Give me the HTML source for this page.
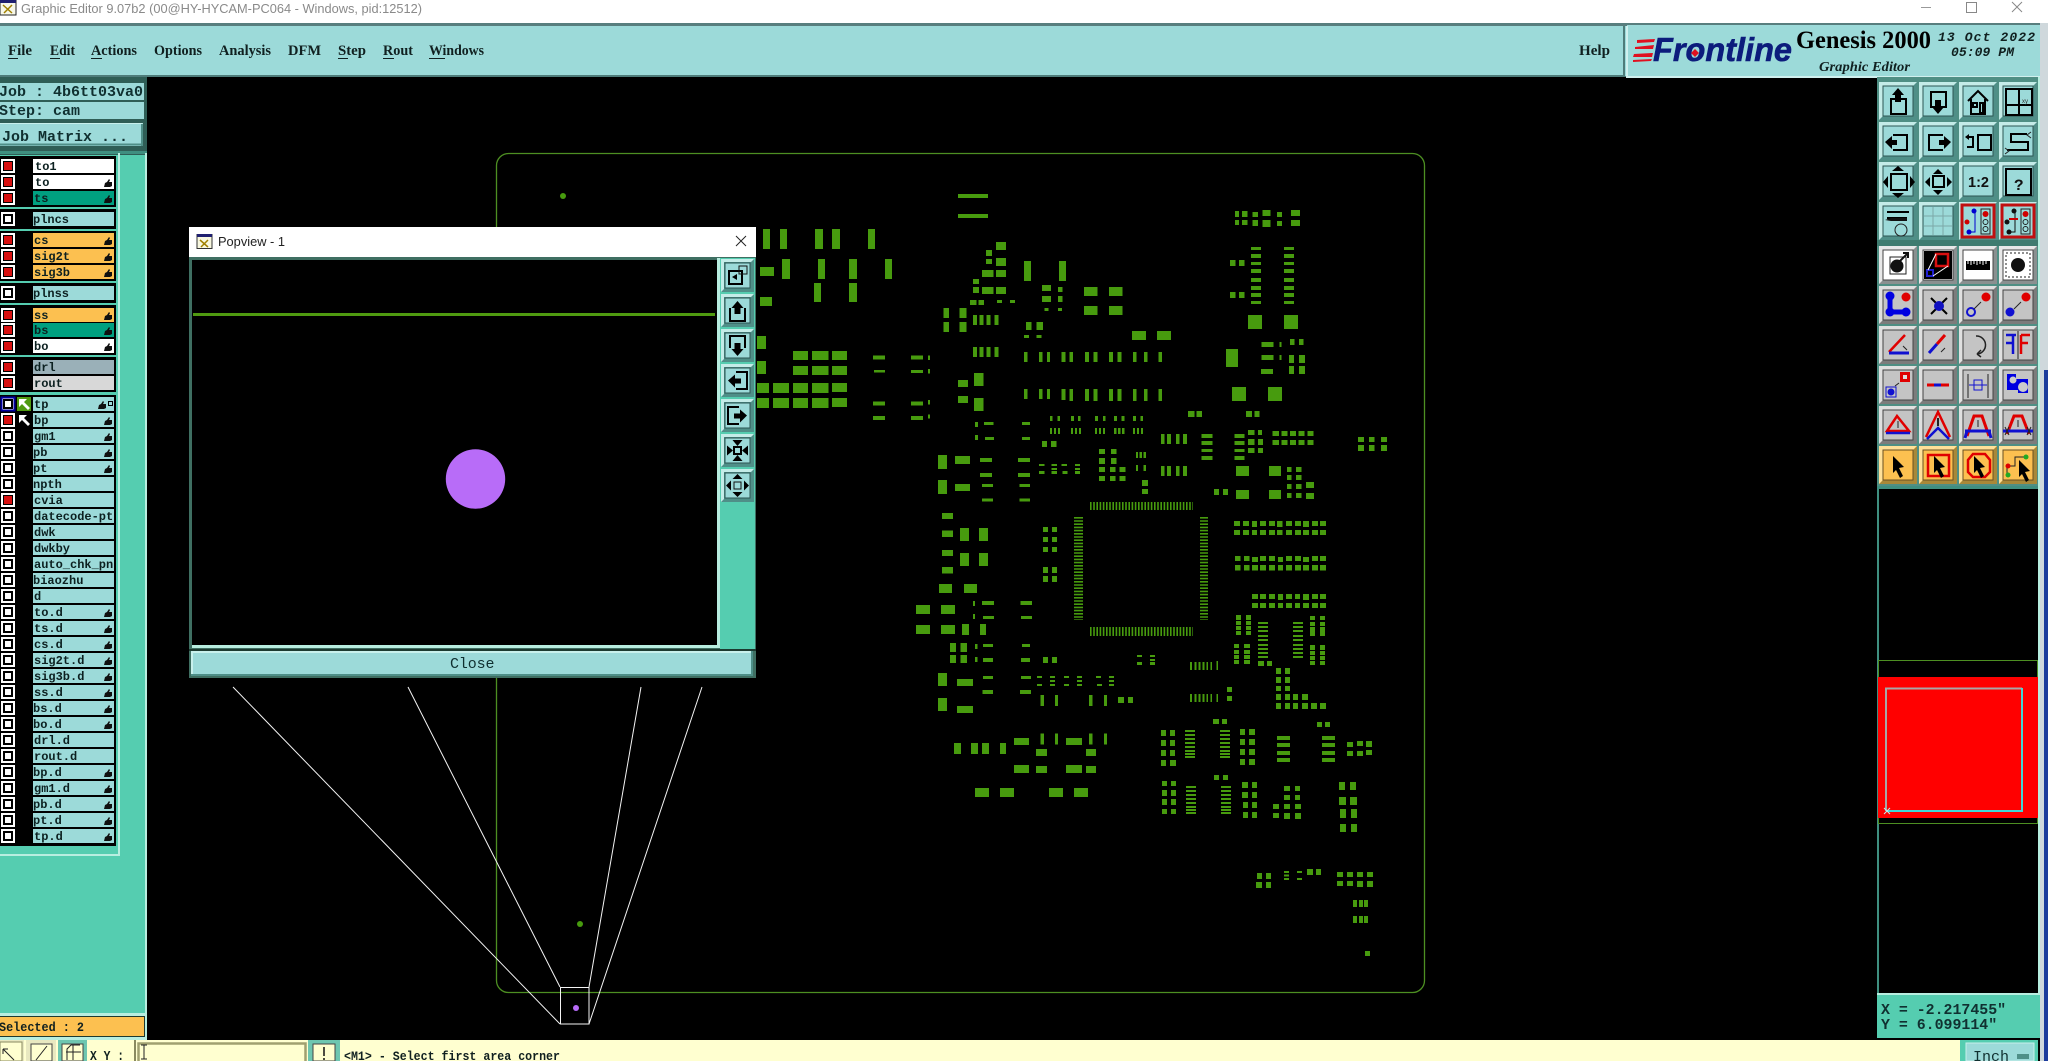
<!DOCTYPE html>
<html><head><meta charset="utf-8"><title>Graphic Editor</title>
<style>
html,body{margin:0;padding:0;background:#000;width:2048px;height:1061px;overflow:hidden}
svg{display:block}
.m{font-family:"Liberation Mono",monospace;font-weight:700}
.l{font-family:"Liberation Mono",monospace;font-weight:700;font-size:12px;fill:#0c2020}
.s{font-family:"Liberation Serif",serif;font-weight:700}
.a{font-family:"Liberation Sans",sans-serif}
.n{fill:none;stroke:#000;stroke-width:2}
</style></head><body>
<svg xmlns="http://www.w3.org/2000/svg" width="2048" height="1061" viewBox="0 0 2048 1061">
<defs>
<g id="hand"><path d="M0 8l1-4 2-1 2-3 1 1-1 2h3v4l-2 1H1z" fill="#101010"/></g>
<g id="bT"><rect width="38" height="38" fill="#4f8f88"/><path d="M0 0h38l-4 4H4v30l-4 4z" fill="#c4ece8"/><rect x="4" y="4" width="30" height="30" fill="#9cdad9" stroke="#2c5654"/></g>
<g id="bW"><rect width="38" height="38" fill="#8a9090"/><path d="M0 0h38l-4 4H4v30l-4 4z" fill="#e8e8e8"/><rect x="4" y="4" width="30" height="30" fill="#fff" stroke="#444"/></g>
<g id="bG"><rect width="38" height="38" fill="#7c7c7c"/><path d="M0 0h38l-4 4H4v30l-4 4z" fill="#e0e0e0"/><rect x="4" y="4" width="30" height="30" fill="#c4c4c4" stroke="#444"/></g>
<g id="bO"><rect width="38" height="38" fill="#a88838"/><path d="M0 0h38l-4 4H4v30l-4 4z" fill="#ffe098"/><rect x="4" y="4" width="30" height="30" fill="#fcc050" stroke="#6a5020"/></g>
<g id="bP"><rect width="33" height="33" fill="#4f8f88"/><path d="M0 0h33l-3 3H3v27l-3 3z" fill="#c4ece8"/><rect x="4" y="4" width="25" height="25" fill="#9cdad9" stroke="#2c5654"/></g>
<path id="ptr" d="M0 0l11 11-5 1 4 8-3 2-4-8-3 3z" fill="#000"/>
</defs>

<rect width="2048" height="1061" fill="#000"/>

<!-- right edge desktop strip -->
<rect x="2040" y="0" width="8" height="1061" fill="#cfd8dc"/>
<rect x="2044" y="370" width="4" height="691" fill="#1c3c9c"/>

<!-- title bar -->
<rect width="2040" height="23" fill="#fff"/>
<rect x="2040" width="8" height="23" fill="#fff"/>
<rect x="0" y="0" width="16" height="15" fill="#f8f8e8" stroke="#222"/><rect x="0" y="0" width="16" height="3" fill="#202070"/>
<path d="M3 5l9 8M12 5l-8 8" stroke="#a08000" stroke-width="1.5"/>
<text class="a" x="21" y="13" font-size="13" fill="#8a8a8a" textLength="401" lengthAdjust="spacingAndGlyphs">Graphic Editor 9.07b2 (00@HY-HYCAM-PC064 - Windows, pid:12512)</text>
<path d="M1921 7.5h10" stroke="#999" stroke-width="1"/>
<rect x="1966.5" y="2.5" width="10" height="10" fill="none" stroke="#888"/>
<path d="M2012 2l10 10M2022 2l-10 10" stroke="#888" stroke-width="1"/>

<!-- menu bar -->
<rect x="0" y="23" width="2040" height="3" fill="#587e7e"/>
<rect x="0" y="26" width="2040" height="49" fill="#9cdad9"/>
<rect x="0" y="75" width="2040" height="2" fill="#4e7c7a"/>
<g class="s" font-size="14.5" fill="#102020">
<text x="8" y="55" textLength="24" lengthAdjust="spacingAndGlyphs">File</text>
<text x="50" y="55" textLength="25" lengthAdjust="spacingAndGlyphs">Edit</text>
<text x="91" y="55" textLength="46" lengthAdjust="spacingAndGlyphs">Actions</text>
<text x="154" y="55" textLength="48" lengthAdjust="spacingAndGlyphs">Options</text>
<text x="219" y="55" textLength="52" lengthAdjust="spacingAndGlyphs">Analysis</text>
<text x="288" y="55" textLength="33" lengthAdjust="spacingAndGlyphs">DFM</text>
<text x="338" y="55" textLength="28" lengthAdjust="spacingAndGlyphs">Step</text>
<text x="383" y="55" textLength="30" lengthAdjust="spacingAndGlyphs">Rout</text>
<text x="429" y="55" textLength="55" lengthAdjust="spacingAndGlyphs">Windows</text>
<text x="1579" y="55" textLength="31" lengthAdjust="spacingAndGlyphs">Help</text>
</g>
<path d="M8 58.5h10M50 58.5h10M91 58.5h11M338 58.5h10M383 58.5h11M429 58.5h16" stroke="#102020" stroke-width="1"/>

<!-- logo panel -->
<rect x="1623" y="26" width="2" height="50" fill="#4e7c7a"/>
<rect x="1625" y="26" width="2" height="50" fill="#9cdad9"/>
<rect x="1627" y="25" width="413" height="52" fill="#9cdad9"/>
<path d="M1627 26v51h413" fill="none" stroke="#d0f0ee" stroke-width="2"/>
<path d="M1637 40l18-1-1 3-17 1zM1635 47l19-2-1 4-18 0zM1634 54l19-1-1 4-19 0zM1633 60l19-1-1 2-18 1z" fill="#e01020"/>
<text x="1653" y="61" font-family="Liberation Sans,sans-serif" font-style="italic" font-weight="700" font-size="33" fill="#0c1c7c" stroke="#0c1c7c" stroke-width=".6" textLength="139" lengthAdjust="spacingAndGlyphs">Frontline</text>
<path d="M1695 49l4 4-4 4-4-4z" fill="#e01020"/>
<text class="s" x="1796" y="48" font-size="25" fill="#000" textLength="135" lengthAdjust="spacingAndGlyphs">Genesis 2000</text>
<text class="s" x="1819" y="71" font-size="14" font-style="italic" fill="#102020" textLength="91" lengthAdjust="spacingAndGlyphs">Graphic Editor</text>
<g font-family="Liberation Mono,monospace" font-style="italic" font-weight="700" font-size="13" fill="#102020">
<text x="1938" y="41" textLength="97">13 Oct 2022</text>
<text x="1951" y="56" textLength="63">05:09 PM</text>
</g>

<!-- PCB outline -->
<rect x="496.5" y="153.5" width="928" height="839" rx="12" fill="none" stroke="#4d8f22" stroke-width="1.3"/>
<ellipse cx="563" cy="196" rx="3" ry="3" fill="#479b0e"/>
<ellipse cx="580" cy="924" rx="3" ry="3" fill="#479b0e"/>

<g fill="#479b0e" shape-rendering="crispEdges">
<path transform="translate(740 150) scale(.4464 .33333)" d="M488 132h68v12h-68zM488 192h68v12h-68zM52 237h15v60h-15zM90 237h15v60h-15zM168 237h18v60h-18zM206 237h18v60h-18zM287 237h15v60h-15zM45 351h31v27h-31zM94 327h18v60h-18zM175 327h15v60h-15zM244 327h18v60h-18zM325 327h15v60h-15zM166 399h15v57h-15zM244 399h18v57h-18zM45 441h27v27h-27zM38 558h20v39h-20zM38 633h20v39h-20zM119 603h33v27h-33zM161 603h37v27h-37zM206 603h34v27h-34zM119 648h33v27h-33zM161 648h37v27h-37zM206 648h34v27h-34zM38 699h27v30h-27zM74 699h36v30h-36zM119 699h33v30h-33zM161 699h37v30h-37zM206 699h34v27h-34zM38 744h27v30h-27zM74 744h36v30h-36zM119 744h33v30h-33zM161 744h37v30h-37zM206 744h34v27h-34zM298 616h27v12h-27zM300 660h25v8h-25zM298 754h27v12h-27zM298 798h27v12h-27zM383 616h27v12h-27zM383 660h27v9h-27zM421 616h5v14h-5zM421 657h5v14h-5zM383 754h27v12h-27zM383 798h27v12h-27zM421 750h5v14h-5zM421 793h5v12h-5z"/>
<path transform="translate(740 150) scale(.4464 .33333)" d="M573 276h23v24h-23zM551 300h13v18h-13zM551 327h13v15h-13zM573 324h23v24h-23zM542 360h26v21h-26zM573 360h23v21h-23zM522 387h13v15h-13zM522 411h13v18h-13zM542 411h26v21h-26zM573 411h23v21h-23zM515 450h15v15h-15zM534 450h13v15h-13zM576 450h11v9h-11zM605 450h11v9h-11zM636 333h16v60h-16zM715 333h15v60h-15zM676 405h21v18h-21zM712 411h11v15h-11zM676 438h21v18h-21zM712 438h11v18h-11zM682 474h9v9h-9zM712 474h9v9h-9zM771 411h30v27h-30zM827 411h30v27h-30zM771 468h30v27h-30zM827 468h30v27h-30zM456 474h12v30h-12zM492 474h15v30h-15zM456 516h12v30h-12zM492 516h15v30h-15zM522 495h9v30h-9zM537 495h9v30h-9zM552 495h9v30h-9zM570 495h9v30h-9zM522 591h9v30h-9zM537 591h9v30h-9zM552 591h9v30h-9zM570 591h9v30h-9zM641 516h12v24h-12zM664 516h15v24h-15zM636 555h11v9h-11zM664 555h11v9h-11zM878 543h31v27h-31zM934 543h31v27h-31z"/>
<path transform="translate(740 150) scale(.4464 .33333)" d="M636 606h8v30h-8zM670 606h8v30h-8zM688 606h6v30h-6zM720 606h9v30h-9zM738 606h8v30h-8zM773 606h9v30h-9zM792 606h9v30h-9zM827 606h9v30h-9zM846 606h9v30h-9zM880 606h8v30h-8zM905 606h8v30h-8zM937 606h8v30h-8zM636 717h8v30h-8zM670 717h8v30h-8zM688 717h6v30h-6zM720 717h9v33h-9zM738 717h8v36h-8zM773 717h9v36h-9zM792 717h9v36h-9zM827 717h9v36h-9zM846 717h9v36h-9zM880 717h8v36h-8zM905 717h8v36h-8zM937 717h8v36h-8zM488 690h23v21h-23zM524 669h21v39h-21zM488 738h23v21h-23zM524 744h21v39h-21zM526 816h7v15h-7zM547 816h21v9h-21zM632 816h18v9h-18zM526 855h7v15h-7zM549 861h20v9h-20zM632 861h18v9h-18zM676 873h12v18h-12zM697 873h12v18h-12zM694 798h6v15h-6zM711 798h6v15h-6zM741 798h7v15h-7zM757 798h6v15h-6zM795 798h7v15h-7zM813 798h6v15h-6zM838 798h7v15h-7zM855 798h6v15h-6zM880 798h7v15h-7zM897 798h6v15h-6zM694 834h5v18h-5zM703 834h5v18h-5zM712 834h5v18h-5zM741 834h5v18h-5zM750 834h5v18h-5zM759 834h5v18h-5zM795 834h5v18h-5zM804 834h5v18h-5zM813 834h5v18h-5zM838 834h5v18h-5zM847 834h5v18h-5zM856 834h5v18h-5zM880 834h5v18h-5zM889 834h5v18h-5zM898 834h5v18h-5z"/>
<path transform="translate(740 150) scale(.4464 .33333)" d="M444 915h20v42h-20zM482 918h33v24h-33zM538 924h26v12h-26zM623 924h27v12h-27zM444 990h20v42h-20zM482 1002h33v21h-33zM538 969h26v12h-26zM623 969h27v12h-27zM542 1002h25v9h-25zM626 1002h24v9h-24zM542 1045h25v10h-25zM626 1045h24v10h-24zM670 942h12v6h-12zM698 942h12v6h-12zM720 942h12v6h-12zM750 942h12v6h-12zM698 954h12v6h-12zM750 954h12v6h-12zM670 963h12v9h-12zM698 963h12v9h-12zM722 963h12v9h-12zM750 963h12v9h-12zM804 897h14v15h-14zM831 897h12v15h-12zM804 924h14v18h-14zM831 924h12v18h-12zM804 951h14v15h-14zM829 951h12v15h-12zM850 951h14v15h-14zM804 978h14v15h-14zM829 978h12v15h-12zM850 978h14v15h-14zM887 906h5v18h-5zM895 906h5v18h-5zM904 906h5v18h-5zM887 945h5v18h-5zM904 945h5v18h-5zM900 990h14v18h-14zM900 1017h14v15h-14zM943 852h8v30h-8zM957 852h9v30h-9zM977 852h8v30h-8zM992 852h9v30h-9zM943 948h8v30h-8zM957 948h9v30h-9zM977 948h8v30h-8zM992 948h9v30h-9zM1034 852h24v12h-24zM1034 873h24v12h-24zM1034 897h24v9h-24zM1034 918h24v12h-24zM1108 852h22v12h-22zM1108 873h22v12h-22zM1108 897h22v9h-22zM1108 918h22v12h-22zM1138 840h14v15h-14zM1160 840h9v15h-9zM1138 867h14v18h-14zM1160 867h12v18h-12zM1138 894h14v15h-14zM1160 894h12v15h-12zM1193 843h14v15h-14zM1213 843h14v15h-14zM1232 843h14v15h-14zM1251 843h14v15h-14zM1271 843h14v15h-14zM1193 870h14v15h-14zM1213 870h14v15h-14zM1232 870h14v15h-14zM1251 870h14v15h-14zM1271 870h14v15h-14zM1384 861h14v15h-14zM1409 861h12v15h-12zM1436 861h13v15h-13zM1384 885h14v18h-14zM1409 885h12v18h-12zM1436 885h13v18h-13zM1004 783h14v18h-14zM1023 783h12v18h-12zM1133 783h14v18h-14zM1152 783h12v18h-12z"/>
<path transform="translate(740 150) scale(.4464 .33333)" d="M1109 183h9v18h-9zM1125 183h12v18h-12zM1148 186h12v15h-12zM1170 180h18v18h-18zM1203 186h11v15h-11zM1234 180h20v18h-20zM1109 210h9v15h-9zM1125 210h12v15h-12zM1148 210h12v18h-12zM1170 210h18v21h-18zM1203 213h11v15h-11zM1234 210h20v18h-20zM1145 291h22v9h-22zM1145 312h22v12h-22zM1145 336h22v9h-22zM1145 357h22v12h-22zM1145 384h22v12h-22zM1145 408h22v12h-22zM1145 429h22v12h-22zM1145 453h22v9h-22zM1219 291h22v9h-22zM1219 312h22v12h-22zM1219 336h22v9h-22zM1219 357h22v12h-22zM1219 384h22v12h-22zM1219 408h22v12h-22zM1219 429h22v12h-22zM1219 453h22v9h-22zM1098 330h12v18h-12zM1118 330h12v18h-12zM1098 426h12v18h-12zM1118 426h12v18h-12zM1138 495h31v42h-31zM1219 495h31v42h-31zM1089 597h27v54h-27zM1168 576h27v15h-27zM1168 615h27v15h-27zM1167 657h27v15h-27zM1209 576h4v15h-4zM1209 615h4v15h-4zM1232 567h10v18h-10zM1252 567h10v18h-10zM1230 615h11v24h-11zM1252 615h14v24h-14zM1230 648h11v24h-11zM1252 648h14v24h-14zM1102 711h31v42h-31zM1183 711h31v42h-31zM1111 948h29v30h-29zM1185 948h27v30h-27zM1225 951h10v15h-10zM1246 951h12v15h-12zM1225 975h10v15h-10zM1246 975h12v15h-12zM1225 1002h10v15h-10zM1246 1002h12v15h-12zM1268 996h18v18h-18zM1062 1017h11v18h-11zM1082 1017h11v18h-11zM1111 1020h29v27h-29zM1185 1020h27v27h-27zM1225 1029h10v15h-10zM1246 1029h12v15h-12zM1268 1029h18v18h-18z"/>

<path transform="translate(900 480) scale(.35714 .33333)" d="M118 99h30v18h-30zM118 151h30v20h-30zM168 144h25v39h-25zM221 144h25v39h-25zM118 210h30v18h-30zM168 219h25v39h-25zM221 219h25v39h-25zM118 261h30v20h-30zM109 312h37v27h-37zM179 312h37v27h-37zM45 375h39v27h-39zM115 375h39v27h-39zM45 435h39v27h-39zM115 435h39v27h-39zM174 432h19v33h-19zM224 432h17v33h-17zM205 363h5v15h-5zM230 363h33v12h-33zM338 363h32v12h-32zM205 402h5v15h-5zM232 408h31v9h-31zM339 408h31v9h-31zM140 489h17v27h-17zM170 489h18v27h-18zM210 492h7v15h-7zM232 492h28v9h-28zM342 492h22v9h-22zM140 525h17v24h-17zM170 525h18v24h-18zM210 531h7v15h-7zM232 534h28v12h-28zM339 534h25v12h-25zM106 579h26v39h-26zM160 597h44v21h-44zM232 588h28v9h-28zM339 588h28v9h-28zM106 654h26v39h-26zM160 678h44v21h-44zM231 630h29v12h-29zM336 630h31v12h-31zM383 588h15v6h-15zM420 588h14v6h-14zM459 588h14v6h-14zM496 588h14v6h-14zM549 588h14v6h-14zM585 588h14v6h-14zM420 600h14v6h-14zM496 600h14v6h-14zM585 600h14v6h-14zM383 612h14v6h-14zM420 612h14v6h-14zM459 612h14v6h-14zM496 612h14v6h-14zM552 612h13v6h-13zM585 612h14v6h-14zM393 645h10v33h-10zM434 645h8v33h-8zM529 645h10v33h-10zM571 645h9v33h-9zM610 651h17v18h-17zM638 651h14v18h-14zM393 760h10v33h-10zM434 760h8v33h-8zM529 760h10v33h-10zM571 760h9v33h-9zM151 789h20v33h-20zM199 789h19v33h-19zM230 789h19v33h-19zM280 789h17v33h-17zM319 774h42v21h-42zM465 774h45v21h-45zM381 807h31v21h-31zM521 807h28v21h-28zM319 855h42v24h-42zM465 855h45v24h-45zM381 858h31v21h-31zM521 858h28v21h-28zM210 924h39v27h-39zM280 924h39v27h-39zM417 924h39v27h-39zM487 924h39v27h-39z"/>
<path transform="translate(900 480) scale(.35714 .33333)" d="M400 141h14v15h-14zM426 141h14v15h-14zM400 171h14v15h-14zM426 171h14v15h-14zM400 201h14v15h-14zM426 201h14v15h-14zM400 261h14v18h-14zM426 261h14v18h-14zM400 288h14v18h-14zM426 288h14v18h-14zM400 531h14v18h-14zM426 531h14v18h-14zM664 525h14v6h-14zM700 525h14v6h-14zM664 546h14v9h-14zM700 537h14v6h-14zM700 546h14v9h-14zM812 546h5v24h-5zM825 546h5v24h-5zM836 546h5v24h-5zM847 546h5v24h-5zM858 546h5v24h-5zM869 546h5v24h-5zM886 543h5v27h-5zM812 642h5v24h-5zM825 642h5v24h-5zM836 642h5v24h-5zM847 642h5v24h-5zM858 642h5v24h-5zM869 642h5v24h-5zM886 642h5v24h-5zM916 621h14v15h-14zM916 648h14v15h-14z"/>
<path transform="translate(900 480) scale(.35714 .33333)" d="M935 123h17v15h-17zM960 123h17v15h-17zM985 123h15v18h-15zM1008 123h17v15h-17zM1033 123h17v15h-17zM1056 123h15v18h-15zM1081 123h17v15h-17zM1106 123h17v15h-17zM1128 123h17v18h-17zM1153 123h17v15h-17zM1176 123h17v15h-17zM935 150h17v15h-17zM960 150h17v15h-17zM985 150h15v15h-15zM1008 150h17v15h-17zM1033 150h17v15h-17zM1056 150h15v15h-15zM1081 150h17v15h-17zM1106 150h17v15h-17zM1128 150h17v15h-17zM1153 150h17v15h-17zM1176 150h17v15h-17zM938 228h15v15h-15zM963 228h15v15h-15zM986 231h16v15h-16zM1008 228h17v15h-17zM1033 228h17v15h-17zM1058 231h14v15h-14zM1081 228h17v15h-17zM1106 228h17v15h-17zM1128 231h17v15h-17zM1153 228h17v15h-17zM1176 228h17v15h-17zM938 255h15v17h-15zM963 255h15v17h-15zM986 255h16v17h-16zM1008 255h17v17h-17zM1033 255h17v17h-17zM1058 255h14v17h-14zM1081 255h17v17h-17zM1106 255h17v17h-17zM1128 255h17v17h-17zM1153 255h17v17h-17zM1176 255h17v17h-17zM986 342h16v15h-16zM1008 342h17v15h-17zM1033 342h17v15h-17zM1058 342h14v18h-14zM1081 342h17v15h-17zM1106 342h14v15h-14zM1128 342h17v18h-17zM1153 342h17v15h-17zM1176 342h17v15h-17zM986 369h16v15h-16zM1008 369h17v15h-17zM1033 369h17v15h-17zM1058 369h14v15h-14zM1081 369h17v15h-17zM1106 369h14v15h-14zM1128 369h17v15h-17zM1153 369h17v15h-17zM1176 369h17v15h-17z"/>
<path transform="translate(900 480) scale(.35714 .33333)" d="M941 405h14v15h-14zM969 405h14v15h-14zM941 423h14v12h-14zM969 423h14v12h-14zM941 438h14v12h-14zM969 438h14v12h-14zM941 453h14v12h-14zM969 453h14v12h-14zM935 492h14v12h-14zM963 492h17v12h-17zM935 510h14v12h-14zM963 510h17v12h-17zM935 525h14v12h-14zM963 525h17v12h-17zM935 540h14v12h-14zM963 540h17v12h-17zM1002 426h28v6h-28zM1002 438h28v6h-28zM1002 450h28v6h-28zM1002 465h28v6h-28zM1002 477h28v6h-28zM1002 492h28v6h-28zM1002 504h28v6h-28zM1002 516h28v6h-28zM1002 528h28v6h-28zM1100 426h28v6h-28zM1100 438h28v6h-28zM1100 450h28v6h-28zM1100 465h28v6h-28zM1100 477h28v6h-28zM1100 492h28v6h-28zM1100 504h28v6h-28zM1100 516h28v6h-28zM1100 528h28v6h-28zM1002 543h17v15h-17zM1028 543h14v15h-14zM1148 408h14v12h-14zM1176 408h14v12h-14zM1148 426h14v12h-14zM1176 426h14v12h-14zM1148 441h14v12h-14zM1176 441h14v12h-14zM1148 453h14v15h-14zM1176 453h14v15h-14zM1148 495h14v15h-14zM1176 495h14v15h-14zM1148 513h14v12h-14zM1176 513h14v12h-14zM1148 528h14v12h-14zM1176 528h14v12h-14zM1148 543h14v12h-14zM1176 543h14v12h-14zM1053 564h14v18h-14zM1078 564h14v18h-14zM1053 591h14v18h-14zM1078 591h14v18h-14zM1053 618h14v15h-14zM1078 618h14v15h-14zM1053 642h14v18h-14zM1078 642h14v18h-14zM1101 642h14v18h-14zM1126 642h17v18h-17zM1053 669h14v18h-14zM1078 669h14v18h-14zM1101 669h14v18h-14zM1126 669h17v18h-17zM1151 669h17v18h-17zM1176 669h17v18h-17z"/>

<path transform="translate(1100 680) scale(.33333)" d="M339 117h18v15h-18zM366 117h15v15h-15zM183 150h15v18h-15zM210 150h15v18h-15zM183 180h15v18h-15zM210 180h15v18h-15zM183 210h15v18h-15zM210 210h15v18h-15zM183 240h15v18h-15zM210 240h18v18h-18zM255 150h30v6h-30zM255 162h30v6h-30zM255 174h30v6h-30zM255 186h30v6h-30zM255 198h30v6h-30zM255 210h30v6h-30zM255 219h30v6h-30zM255 228h30v6h-30zM360 150h30v6h-30zM360 162h30v6h-30zM360 174h30v6h-30zM360 186h30v6h-30zM360 198h30v6h-30zM360 210h30v6h-30zM360 219h30v6h-30zM360 228h30v6h-30zM420 147h15v18h-15zM447 147h18v18h-18zM420 177h15v18h-15zM447 177h18v18h-18zM420 207h15v18h-15zM447 207h18v18h-18zM420 237h15v18h-15zM447 237h18v18h-18zM531 168h39v12h-39zM531 189h39v12h-39zM531 213h39v12h-39zM531 234h39v12h-39zM666 168h39v12h-39zM666 189h39v12h-39zM666 213h39v12h-39zM666 234h39v12h-39zM651 126h15v15h-15zM675 126h15v15h-15zM741 186h18v15h-18zM771 183h18v15h-18zM798 183h18v18h-18zM741 213h18v15h-18zM771 213h18v15h-18zM798 210h18v15h-18z"/>
<path transform="translate(1100 680) scale(.33333)" d="M342 285h15v15h-15zM369 285h15v15h-15zM186 303h15v15h-15zM213 303h15v15h-15zM186 330h15v18h-15zM213 330h15v18h-15zM186 357h15v18h-15zM213 357h15v18h-15zM186 387h15v15h-15zM213 387h15v15h-15zM258 318h30v6h-30zM258 330h30v6h-30zM258 342h30v6h-30zM258 354h30v6h-30zM258 366h30v6h-30zM258 378h30v6h-30zM258 387h30v6h-30zM258 396h30v6h-30zM363 318h30v6h-30zM363 330h30v6h-30zM363 342h30v6h-30zM363 354h30v6h-30zM363 366h30v6h-30zM363 378h30v6h-30zM363 387h30v6h-30zM363 396h30v6h-30zM426 306h18v18h-18zM456 306h15v18h-15zM426 336h18v18h-18zM456 336h15v18h-15zM429 366h15v18h-15zM456 366h15v18h-15zM429 396h15v18h-15zM456 396h15v18h-15zM552 318h18v15h-18zM585 318h15v15h-15zM552 345h18v15h-18zM585 345h15v15h-15zM519 372h18v15h-18zM552 372h18v15h-18zM585 372h18v15h-18zM519 399h18v15h-18zM552 399h18v18h-18zM585 399h18v18h-18zM717 306h18v24h-18zM750 306h18v24h-18zM717 351h21v24h-21zM750 351h21v24h-21zM720 387h18v27h-18zM753 387h18v27h-18zM720 432h18v24h-18zM753 432h18v24h-18zM471 579h15v18h-15zM498 579h15v18h-15zM468 606h18v18h-18zM498 606h15v18h-15zM552 573h15v6h-15zM552 584h15v6h-15zM552 594h15v6h-15zM591 573h15v6h-15zM591 594h15v6h-15zM621 567h18v18h-18zM648 567h15v18h-15zM711 576h18v15h-18zM741 576h18v15h-18zM771 576h18v15h-18zM801 576h18v15h-18zM711 603h18v15h-18zM741 603h18v15h-18zM771 603h18v18h-18zM801 603h18v18h-18zM759 660h12v21h-12zM777 660h12v21h-12zM792 660h12v21h-12zM759 708h12v21h-12zM777 708h12v21h-12zM792 708h12v21h-12zM795 813h15v15h-15z"/>
</g>
<!-- QFP leads -->
<g fill="none" stroke="#479b0e" stroke-dasharray="1.6 1.6">
<path d="M1090 506H1193" stroke-width="8"/>
<path d="M1090 631.5H1193" stroke-width="9"/>
<path d="M1078.5 517V620" stroke-width="9"/>
<path d="M1204 517V620" stroke-width="8"/>
</g>

<!-- rubber band -->
<g fill="none" stroke="#f4f4f4" stroke-width="1">
<path d="M233 687L560 1024M408 687L560 987M641 687L589 987M702 687L589 1024"/>
<rect x="560.5" y="987.5" width="28.5" height="36.5"/>
</g>
<circle cx="576" cy="1008" r="3" fill="#b86cf8"/>

<!-- Left panel -->
<rect x="0" y="77" width="146" height="963" fill="#55cdb0"/>
<rect x="0" y="77" width="147" height="78" fill="#2f5e56"/>
<rect x="0" y="83" width="144" height="17" fill="#9cdad9"/>
<rect x="0" y="102" width="144" height="17" fill="#9cdad9"/>
<rect x="0" y="123" width="143" height="23" fill="#9cdad9"/>
<path d="M0 123.5h142M0 145h142M142 123v23" stroke="#c8f0ec" stroke-width="1" fill="none"/>
<path d="M0 144.5h142M142 124v22" stroke="#4f8f88" stroke-width="2" fill="none"/>
<rect x="0" y="151" width="147" height="3" fill="#3f8f80"/>
<rect x="145" y="153" width="2" height="887" fill="#b8eee0"/>
<rect x="118" y="153" width="2" height="703" fill="#b8eee0"/>
<rect x="0" y="854" width="119" height="2" fill="#b8eee0"/>
<g class="m" font-size="15" fill="#103030">
<text x="-1" y="96">Job : 4b6tt03va0</text>
<text x="-1" y="115">Step: cam</text>
<text x="2" y="141">Job Matrix ...</text>
</g>

<!-- layer containers -->
<g fill="#000">
<rect y="156" width="116" height="51"/><rect y="209" width="116" height="20"/><rect y="231" width="116" height="50"/><rect y="283" width="116" height="20"/><rect y="305" width="116" height="50"/><rect y="357" width="116" height="35"/><rect y="395" width="116" height="451"/>
</g>
<!-- rows bg -->
<g fill="#9cdad9">
<rect x="33" y="159" width="81" height="14" fill="#fff"/><rect x="33" y="175" width="81" height="14" fill="#fff"/><rect x="33" y="191" width="81" height="14" fill="#00a080"/>
<rect x="33" y="212" width="81" height="14"/>
<rect x="33" y="233" width="81" height="14" fill="#fcc050"/><rect x="33" y="249" width="81" height="14" fill="#fcc050"/><rect x="33" y="265" width="81" height="14" fill="#fcc050"/>
<rect x="33" y="286" width="81" height="14"/>
<rect x="33" y="308" width="81" height="14" fill="#fcc050"/><rect x="33" y="323" width="81" height="14" fill="#00a080"/><rect x="33" y="339" width="81" height="14" fill="#fff"/>
<rect x="33" y="360" width="81" height="14" fill="#9ab0b8"/><rect x="33" y="376" width="81" height="14" fill="#d8d8d8"/>
<path d="M33 397h81v14h-81zM33 413h81v14h-81zM33 429h81v14h-81zM33 445h81v14h-81zM33 461h81v14h-81zM33 477h81v14h-81zM33 493h81v14h-81zM33 509h81v14h-81zM33 525h81v14h-81zM33 541h81v14h-81zM33 557h81v14h-81zM33 573h81v14h-81zM33 589h81v14h-81zM33 605h81v14h-81zM33 621h81v14h-81zM33 637h81v14h-81zM33 653h81v14h-81zM33 669h81v14h-81zM33 685h81v14h-81zM33 701h81v14h-81zM33 717h81v14h-81zM33 733h81v14h-81zM33 749h81v14h-81zM33 765h81v14h-81zM33 781h81v14h-81zM33 797h81v14h-81zM33 813h81v14h-81zM33 829h81v14h-81z"/>
</g>
<!-- checkbox outer -->
<path fill="#fff" d="M1 159h14v14h-14zM1 175h14v14h-14zM1 191h14v14h-14zM1 212h14v14h-14zM1 233h14v14h-14zM1 249h14v14h-14zM1 265h14v14h-14zM1 286h14v14h-14zM1 308h14v14h-14zM1 323h14v14h-14zM1 339h14v14h-14zM1 360h14v14h-14zM1 376h14v14h-14zM1 397h14v14h-14zM1 413h14v14h-14zM1 429h14v14h-14zM1 445h14v14h-14zM1 461h14v14h-14zM1 477h14v14h-14zM1 493h14v14h-14zM1 509h14v14h-14zM1 525h14v14h-14zM1 541h14v14h-14zM1 557h14v14h-14zM1 573h14v14h-14zM1 589h14v14h-14zM1 605h14v14h-14zM1 621h14v14h-14zM1 637h14v14h-14zM1 653h14v14h-14zM1 669h14v14h-14zM1 685h14v14h-14zM1 701h14v14h-14zM1 717h14v14h-14zM1 733h14v14h-14zM1 749h14v14h-14zM1 765h14v14h-14zM1 781h14v14h-14zM1 797h14v14h-14zM1 813h14v14h-14zM1 829h14v14h-14z"/>
<path fill="#000" d="M3 161h10v10h-10zM3 177h10v10h-10zM3 193h10v10h-10zM3 214h10v10h-10zM3 235h10v10h-10zM3 251h10v10h-10zM3 267h10v10h-10zM3 288h10v10h-10zM3 310h10v10h-10zM3 325h10v10h-10zM3 341h10v10h-10zM3 362h10v10h-10zM3 378h10v10h-10zM3 399h10v10h-10zM3 415h10v10h-10zM3 431h10v10h-10zM3 447h10v10h-10zM3 463h10v10h-10zM3 479h10v10h-10zM3 495h10v10h-10zM3 511h10v10h-10zM3 527h10v10h-10zM3 543h10v10h-10zM3 559h10v10h-10zM3 575h10v10h-10zM3 591h10v10h-10zM3 607h10v10h-10zM3 623h10v10h-10zM3 639h10v10h-10zM3 655h10v10h-10zM3 671h10v10h-10zM3 687h10v10h-10zM3 703h10v10h-10zM3 719h10v10h-10zM3 735h10v10h-10zM3 751h10v10h-10zM3 767h10v10h-10zM3 783h10v10h-10zM3 799h10v10h-10zM3 815h10v10h-10zM3 831h10v10h-10z"/>
<path fill="#fff" d="M5 216h6v6h-6zM5 290h6v6h-6zM5 401h6v6h-6zM5 433h6v6h-6zM5 449h6v6h-6zM5 465h6v6h-6zM5 481h6v6h-6zM5 513h6v6h-6zM5 529h6v6h-6zM5 545h6v6h-6zM5 561h6v6h-6zM5 577h6v6h-6zM5 593h6v6h-6zM5 609h6v6h-6zM5 625h6v6h-6zM5 641h6v6h-6zM5 657h6v6h-6zM5 673h6v6h-6zM5 689h6v6h-6zM5 705h6v6h-6zM5 721h6v6h-6zM5 737h6v6h-6zM5 753h6v6h-6zM5 769h6v6h-6zM5 785h6v6h-6zM5 801h6v6h-6zM5 817h6v6h-6zM5 833h6v6h-6z"/>
<path fill="#d81010" d="M4 162h8v8h-8zM4 178h8v8h-8zM4 194h8v8h-8zM4 236h8v8h-8zM4 252h8v8h-8zM4 268h8v8h-8zM4 311h8v8h-8zM4 326h8v8h-8zM4 342h8v8h-8zM4 363h8v8h-8zM4 379h8v8h-8zM4 416h8v8h-8zM4 496h8v8h-8z"/>
<!-- tp blue frame and arrows -->
<rect x="1.5" y="397.5" width="13" height="13" fill="none" stroke="#0000a0" stroke-width="2"/>
<rect x="17" y="397" width="14" height="14" fill="#4f9a10"/>
<path d="M19 399h8l-3 3 6 6-2 2-6-6-3 3z" fill="#fff"/>
<path d="M19 415h8l-3 3 6 6-2 2-6-6-3 3z" fill="#fff"/>

<!-- layer names -->
<text class="l" x="35" y="170">to1</text><text class="l" x="35" y="186">to</text><text class="l" x="34" y="202">ts</text>
<text class="l" x="33" y="223">plncs</text>
<text class="l" x="34" y="244">cs</text><text class="l" x="34" y="260">sig2t</text><text class="l" x="34" y="276">sig3b</text>
<text class="l" x="33" y="297">plnss</text>
<text class="l" x="34" y="319">ss</text><text class="l" x="34" y="334">bs</text><text class="l" x="34" y="350">bo</text>
<text class="l" x="34" y="371">drl</text><text class="l" x="34" y="387">rout</text>
<text class="l" x="34" y="408">tp</text><text class="l" x="34" y="424">bp</text><text class="l" x="34" y="440">gm1</text><text class="l" x="33" y="456">pb</text><text class="l" x="33" y="472">pt</text><text class="l" x="33" y="488">npth</text><text class="l" x="34" y="504">cvia</text><text class="l" x="34" y="520">datecode-pt</text><text class="l" x="34" y="536">dwk</text><text class="l" x="34" y="552">dwkby</text><text class="l" x="34" y="568">auto_chk_pn</text><text class="l" x="33" y="584">biaozhu</text><text class="l" x="34" y="600">d</text><text class="l" x="34" y="616">to.d</text><text class="l" x="34" y="632">ts.d</text><text class="l" x="34" y="648">cs.d</text><text class="l" x="34" y="664">sig2t.d</text><text class="l" x="34" y="680">sig3b.d</text><text class="l" x="34" y="696">ss.d</text><text class="l" x="33" y="712">bs.d</text><text class="l" x="33" y="728">bo.d</text><text class="l" x="34" y="744">drl.d</text><text class="l" x="34" y="760">rout.d</text><text class="l" x="33" y="776">bp.d</text><text class="l" x="34" y="792">gm1.d</text><text class="l" x="33" y="808">pb.d</text><text class="l" x="33" y="824">pt.d</text><text class="l" x="34" y="840">tp.d</text>
<rect x="114" y="396" width="2" height="450" fill="#000"/>
<!-- hand icons -->
<g>
<use href="#hand" x="104" y="179"/><use href="#hand" x="104" y="195"/><use href="#hand" x="104" y="237"/><use href="#hand" x="104" y="253"/><use href="#hand" x="104" y="269"/><use href="#hand" x="104" y="312"/><use href="#hand" x="104" y="327"/><use href="#hand" x="104" y="343"/>
<use href="#hand" x="98" y="401"/><use href="#hand" x="104" y="417"/><use href="#hand" x="104" y="433"/><use href="#hand" x="104" y="449"/><use href="#hand" x="104" y="465"/>
<use href="#hand" x="104" y="609"/><use href="#hand" x="104" y="625"/><use href="#hand" x="104" y="641"/><use href="#hand" x="104" y="657"/><use href="#hand" x="104" y="673"/><use href="#hand" x="104" y="689"/><use href="#hand" x="104" y="705"/><use href="#hand" x="104" y="721"/><use href="#hand" x="104" y="769"/><use href="#hand" x="104" y="785"/><use href="#hand" x="104" y="801"/><use href="#hand" x="104" y="817"/><use href="#hand" x="104" y="833"/>
</g>
<rect x="108" y="401" width="5" height="5" fill="#000"/><rect x="109" y="402" width="3" height="3" fill="#9cdad9"/>

<!-- selected -->
<rect x="0" y="1013" width="147" height="27" fill="#b8eee0"/>
<rect x="0" y="1016" width="145" height="21" fill="#1c3a30"/>
<rect x="0" y="1017" width="144" height="19" fill="#fcc050"/>
<text class="m" x="-1" y="1031" font-size="13" fill="#102020" textLength="85" lengthAdjust="spacingAndGlyphs">Selected : 2</text>

<!-- Bottom bar -->
<rect x="0" y="1040" width="1960" height="21" fill="#ffffd0"/>
<rect x="0" y="1040" width="24" height="21" fill="#e8e8c0"/><rect x="0" y="1042" width="22" height="19" fill="#ffffd0" stroke="#8a8a60"/>
<path d="M3 1049l11 11M3 1049h5M3 1049v5" stroke="#222" fill="none"/>
<rect x="26" y="1040" width="30" height="21" fill="#e8e8c0"/><rect x="31" y="1044" width="21" height="17" fill="#ffffd0" stroke="#444"/>
<path d="M36 1060l11-14" stroke="#222"/>
<rect x="58" y="1040" width="29" height="21" fill="#6ec6b0"/><rect x="62" y="1044" width="21" height="17" fill="#ffffd0" stroke="#444"/>
<path d="M67 1060v-11l4-4h9M73 1045v15M66 1052h15" stroke="#222" fill="none"/>
<text class="m" x="90" y="1060" font-size="14" fill="#102020" textLength="34" lengthAdjust="spacingAndGlyphs">X Y :</text>
<rect x="134" y="1040" width="2" height="21" fill="#8a8a60"/>
<rect x="138.5" y="1043.5" width="167" height="20" fill="#ffffd0" stroke="#a0a070" stroke-width="2.5"/>
<path d="M141 1045h6M144 1045v14M141 1059h6" stroke="#222" fill="none"/>
<rect x="308" y="1040" width="32" height="21" fill="#6ec6b0"/><rect x="313" y="1044" width="22" height="17" fill="#ffffd0" stroke="#444"/>
<path d="M324 1047v9M324 1058v2" stroke="#111" stroke-width="1.5"/>
<text class="m" x="344" y="1060" font-size="13" fill="#102020" textLength="216" lengthAdjust="spacingAndGlyphs">&lt;M1&gt; - Select first area corner</text>

<!-- Right panel -->
<rect x="1877" y="77" width="163" height="416" fill="#4f8f84"/>
<rect x="1877" y="240" width="163" height="6" fill="#3f7c70"/>
<rect x="1877" y="486" width="163" height="3" fill="#3f8f80"/>
<rect x="1877" y="489" width="2" height="505" fill="#3f8f80"/>
<rect x="1879" y="489" width="159" height="505" fill="#000"/>
<rect x="2038" y="77" width="2" height="960" fill="#b8eee0"/>
<rect x="1878.5" y="660.5" width="159" height="163" fill="none" stroke="#4d8f22"/>
<rect x="1878" y="677" width="160" height="141" fill="#ff0000"/>
<path d="M1886 811V688.5H2022" fill="none" stroke="#a8a8a8" stroke-width="2"/>
<path d="M2022 688v123H1886" fill="none" stroke="#40d8d8" stroke-width="2"/>
<path d="M1884 808l6 6M1890 808l-6 6" stroke="#c0f0f0"/>
<rect x="1877" y="993" width="163" height="45" fill="#55cdb0"/>
<rect x="1877" y="993" width="163" height="2" fill="#b8eee0"/>
<g class="m" font-size="14.9" fill="#103030">
<text x="1881" y="1014">X = -2.217455"</text>
<text x="1881" y="1029">Y = 6.099114"</text>
</g>
<rect x="1960" y="1040" width="78" height="21" fill="#55cdb0"/>
<rect x="1966" y="1043" width="68" height="18" fill="#9cdad9" stroke="#c8f0ec"/>
<text x="1973" y="1061" font-family="Liberation Mono,monospace" font-size="15" fill="#103030">Inch</text>
<rect x="2017" y="1054" width="12" height="5" fill="#4f8f88"/>

<!-- Toolbar buttons -->
<g>
<use href="#bT" x="1879" y="82"/><use href="#bT" x="1919" y="82"/><use href="#bT" x="1959" y="82"/><use href="#bT" x="1999" y="82"/>
<use href="#bT" x="1879" y="122"/><use href="#bT" x="1919" y="122"/><use href="#bT" x="1959" y="122"/><use href="#bT" x="1999" y="122"/>
<use href="#bT" x="1879" y="162"/><use href="#bT" x="1919" y="162"/><use href="#bT" x="1959" y="162"/><use href="#bT" x="1999" y="162"/>
<use href="#bT" x="1879" y="202"/><use href="#bT" x="1919" y="202"/><use href="#bT" x="1959" y="202"/><use href="#bT" x="1999" y="202"/>
<use href="#bW" x="1879" y="246"/><use href="#bW" x="1919" y="246"/><use href="#bW" x="1959" y="246"/><use href="#bW" x="1999" y="246"/>
<use href="#bG" x="1879" y="286"/><use href="#bG" x="1919" y="286"/><use href="#bG" x="1959" y="286"/><use href="#bG" x="1999" y="286"/>
<use href="#bG" x="1879" y="326"/><use href="#bG" x="1919" y="326"/><use href="#bG" x="1959" y="326"/><use href="#bG" x="1999" y="326"/>
<use href="#bG" x="1879" y="366"/><use href="#bG" x="1919" y="366"/><use href="#bG" x="1959" y="366"/><use href="#bG" x="1999" y="366"/>
<use href="#bG" x="1879" y="406"/><use href="#bG" x="1919" y="406"/><use href="#bG" x="1959" y="406"/><use href="#bG" x="1999" y="406"/>
<use href="#bO" x="1879" y="446"/><use href="#bO" x="1919" y="446"/><use href="#bO" x="1959" y="446"/><use href="#bO" x="1999" y="446"/>
</g>
<!-- row 1 icons -->
<g transform="translate(1879 82)"><rect class="n" x="12" y="17" width="15" height="15"/><path d="M19 6l6 7h-3v7h-6v-7h-3z"/></g>
<g transform="translate(1919 82)"><rect class="n" x="12" y="10" width="15" height="15"/><path d="M19 32l6-7h-3v-7h-6v7h-3z"/></g>
<g transform="translate(1959 82)"><path class="n" d="M9 19L19 9l10 10M12 17v15h14V17M14 21h4v4h-4zM21 21h3v10h-3z" stroke-width="1.5"/></g>
<g transform="translate(1999 82)"><rect class="n" x="7" y="7" width="26" height="26"/><path class="n" d="M20 7v26M7 23h26"/><text x="23" y="21" font-size="6" font-family="Liberation Sans,sans-serif" fill="#333">xy</text></g>
<!-- row 2 -->
<g transform="translate(1879 122)"><path class="n" d="M14 13h14v15H14"/><path d="M6 20l7-6v4h5v5h-5v4z"/></g>
<g transform="translate(1919 122)"><path class="n" d="M24 13H10v15h14"/><path d="M32 20l-7-6v4h-5v5h5v4z"/></g>
<g transform="translate(1959 122)"><rect class="n" x="19" y="13" width="13" height="15"/><path class="n" d="M8 15h6v10H8"/><path d="M6 15l4-3v6z"/></g>
<g transform="translate(1999 122)"><path class="n" d="M28 12H12v8h17v8H8" stroke-width="2.5"/><path d="M32 10l-4 3 4 3M6 26l4 3-4 3" fill="none" stroke="#222"/></g>
<!-- row 3 -->
<g transform="translate(1879 162)"><rect class="n" x="12" y="12" width="16" height="16"/><path d="M19 4l6 5H13zM19 36l6-5H13zM4 20l5-6v12zM36 20l-5-6v12z"/></g>
<g transform="translate(1919 162)"><rect class="n" x="14" y="14" width="11" height="11"/><path d="M19 7l5 5h-10zM19 33l5-5h-10zM6 20l5-5v10zM33 20l-5-5v10z"/></g>
<g transform="translate(1959 162)"><text x="9" y="25" font-family="Liberation Sans,sans-serif" font-weight="700" font-size="15" fill="#111" textLength="21" lengthAdjust="spacingAndGlyphs">1:2</text></g>
<g transform="translate(1999 162)"><rect class="n" x="7" y="7" width="25" height="26"/><text x="15" y="28" font-family="Liberation Mono,monospace" font-weight="700" font-size="16" fill="#111">?</text></g>
<!-- row 4 -->
<g transform="translate(1879 202)"><path class="n" d="M8 10h22M8 16h20" /><path d="M6 18l6-2h16v3H12z" fill="#111"/><circle cx="22" cy="28" r="6" fill="none" stroke="#222"/></g>
<g transform="translate(1919 202)"><path fill="none" stroke="#7ca8a8" d="M14 5v28M24 5v28M5 14h28M5 24h28"/></g>
<g transform="translate(1959 202)"><rect x="3" y="3" width="32" height="32" fill="#9cdad9" stroke="#c01010" stroke-width="3"/><path fill="none" stroke="#0000d0" d="M16 8v22H8"/><circle cx="15" cy="9" r="2.5" fill="#0000d0"/><circle cx="8" cy="20" r="2.5" fill="#d00000"/><circle cx="10" cy="30" r="2.5" fill="#0000d0"/><rect x="22" y="7" width="9" height="25" fill="none" stroke="#222"/><circle cx="26.5" cy="12" r="3" fill="#d00000"/><circle cx="26.5" cy="20" r="2.5" fill="none" stroke="#222"/><circle cx="26.5" cy="27" r="2.5" fill="none" stroke="#222"/></g>
<g transform="translate(1999 202)"><rect x="3" y="3" width="32" height="32" fill="#9cdad9" stroke="#c01010" stroke-width="3"/><path fill="none" stroke="#111" d="M16 8v22H8"/><circle cx="15" cy="9" r="2.5" fill="#111"/><circle cx="8" cy="20" r="2.5" fill="#111"/><circle cx="10" cy="30" r="2.5" fill="#111"/><path d="M10 16h9v2h-9z" fill="#c00"/><rect x="22" y="7" width="9" height="25" fill="none" stroke="#222"/><circle cx="26.5" cy="12" r="3" fill="#d00000"/><circle cx="26.5" cy="20" r="2.5" fill="none" stroke="#222"/><circle cx="26.5" cy="27" r="2.5" fill="none" stroke="#222"/></g>
<!-- group 2 row 1 -->
<g transform="translate(1879 246)"><rect x="11" y="11" width="16" height="17" fill="none" stroke="#222"/><circle cx="18" cy="20" r="6.5" fill="#111"/><path d="M21 15l8-8M24 7h5v5" stroke="#111" stroke-width="2" fill="none"/></g>
<g transform="translate(1919 246)"><rect x="5" y="5" width="28" height="28" fill="#000"/><rect x="17" y="8" width="12" height="12" fill="none" stroke="#d81010" stroke-width="2.5"/><rect x="8" y="24" width="6" height="6" fill="none" stroke="#2020d0" stroke-width="2"/><path d="M17 8L9 24M29 20L14 30" stroke="#fff"/></g>
<g transform="translate(1959 246)"><path d="M7 15h24v9H7z"/><path d="M9 15v3M12 15v4M15 15v3M18 15v4M21 15v3M24 15v4M27 15v3" stroke="#fff"/></g>
<g transform="translate(1999 246)"><rect x="7" y="7" width="24" height="24" fill="none" stroke="#222" stroke-dasharray="2 2"/><circle cx="19" cy="19" r="7" fill="#111"/></g>
<!-- row 2 -->
<g transform="translate(1879 286)"><path d="M11 10v16h16" fill="none" stroke="#0000e0" stroke-width="5"/><circle cx="11" cy="10" r="4.5" fill="#0000e0"/><circle cx="11" cy="26" r="4.5" fill="#0000e0"/><circle cx="27" cy="26" r="4.5" fill="#0000e0"/><circle cx="27" cy="11" r="4.5" fill="#e00000"/></g>
<g transform="translate(1919 286)"><path d="M12 12l16 16M28 12L12 28" stroke="#000" stroke-width="2"/><circle cx="20" cy="20" r="5" fill="#1010c0"/></g>
<g transform="translate(1959 286)"><circle cx="12" cy="26" r="4" fill="none" stroke="#1010d0" stroke-width="2"/><circle cx="27" cy="11" r="4.5" fill="#e00000"/><path d="M15 23l7-7" stroke="#222"/></g>
<g transform="translate(1999 286)"><circle cx="11" cy="26" r="4.5" fill="#1010d0"/><circle cx="27" cy="11" r="4.5" fill="#e00000"/><path d="M15 23l7-7" stroke="#222"/></g>
<!-- row 3 -->
<g transform="translate(1879 326)"><path d="M10 26L26 9" stroke="#e00000" stroke-width="2.5"/><path d="M10 27h20" stroke="#1010d0" stroke-width="3"/><path d="M24 20l4 4" stroke="#222"/></g>
<g transform="translate(1919 326)"><path d="M10 27l8-9" stroke="#1010d0" stroke-width="3"/><path d="M18 18l8-9" stroke="#e00000" stroke-width="3"/><path d="M22 26l4-4" stroke="#222"/></g>
<g transform="translate(1959 326)"><path d="M17 10a9 9 0 0 1 1 18M18 28l4-4M18 28l4 3" fill="none" stroke="#222" stroke-width="1.5"/></g>
<g transform="translate(1999 326)"><path d="M7 9h10M7 17h7M14 9v19" stroke="#1010d0" stroke-width="2.5" fill="none"/><path d="M19 5v28" stroke="#222"/><path d="M22 9h9M22 17h7M22 9v19" stroke="#e00000" stroke-width="2.5" fill="none"/></g>
<!-- row 4 -->
<g transform="translate(1879 366)"><rect x="21" y="6" width="10" height="10" fill="#e00000"/><rect x="24" y="9" width="4" height="4" fill="#ddd"/><rect x="7" y="21" width="10" height="10" fill="none" stroke="#1010d0"/><circle cx="12" cy="26" r="3.5" fill="#1010d0"/><path d="M16 20l4-3" stroke="#222"/></g>
<g transform="translate(1919 366)"><path d="M8 19h22" stroke="#e00000" stroke-width="3"/><path d="M15 19h7" stroke="#1010d0" stroke-width="3"/></g>
<g transform="translate(1959 366)"><path d="M9 8v24M29 8v24" stroke="#222"/><path d="M10 19h18" stroke="#1010d0"/><rect x="15" y="14" width="8" height="10" fill="none" stroke="#1010d0"/></g>
<g transform="translate(1999 366)"><path d="M8 8h9v5h12v14H19v-3H8z" fill="#0000e0"/><circle cx="14" cy="14" r="3.5" fill="#ccc"/><circle cx="24" cy="21" r="5" fill="#ccc"/></g>
<!-- row 5 -->
<g transform="translate(1879 406)"><path d="M18 10L30 25H8z" fill="none" stroke="#e00000" stroke-width="2.5"/><path d="M7 27h24" stroke="#1010d0" stroke-width="2.5"/><path d="M19 15v7" stroke="#222"/></g>
<g transform="translate(1919 406)"><path d="M7 31L19 6l12 25" fill="none" stroke="#e00000" stroke-width="2.5"/><path d="M8 33l11-11 11 11" fill="none" stroke="#1010d0" stroke-width="2.5"/><path d="M19 12v8" stroke="#222" stroke-width="2"/></g>
<g transform="translate(1959 406)"><path d="M8 30l7-20h8l7 20" fill="none" stroke="#e00000" stroke-width="3"/><path d="M6 25h26M8 25l-2 7M30 25l2 7" stroke="#1010d0" stroke-width="3"/><path d="M19 14v7" stroke="#222"/></g>
<g transform="translate(1999 406)"><path d="M8 28l7-18h8l7 18" fill="none" stroke="#e00000" stroke-width="3"/><path d="M4 25h30" stroke="#1010d0" stroke-width="3"/><path d="M19 14v7" stroke="#222"/><path d="M6 21l4 8M10 21l-4 8M28 21l4 8M32 21l-4 8" stroke="#222"/></g>
<!-- row 6 -->
<use href="#ptr" transform="translate(1893 456)"/>
<g transform="translate(1919 446)"><rect x="9" y="9" width="21" height="21" fill="none" stroke="#e00000" stroke-width="2.5"/><use href="#ptr" transform="translate(15 10)"/></g>
<g transform="translate(1959 446)"><path d="M14 8h12l5 6v12l-5 5H14l-5-5V14z" fill="none" stroke="#e00000" stroke-width="2.5"/><use href="#ptr" transform="translate(15 10)"/></g>
<g transform="translate(1999 446)"><path d="M8 29v-9h8v-9h13" fill="none" stroke="#222"/><circle cx="9" cy="20" r="2.5" fill="#d00"/><circle cx="9" cy="29" r="2.5" fill="#2a2"/><circle cx="27" cy="11" r="2.5" fill="#2a2"/><use href="#ptr" transform="translate(20 14)"/></g>

<!-- Popview window -->
<rect x="189" y="227" width="567" height="451" fill="#3f6f62"/>
<rect x="189" y="227" width="567" height="30" fill="#fff"/>
<rect x="197" y="234.5" width="15" height="14" fill="#f8f8e0" stroke="#333"/><rect x="197" y="234" width="15" height="3" fill="#202070"/>
<path d="M200 240l8 7M208 240l-7 7" stroke="#a08000" stroke-width="1.5"/>
<text class="a" x="218" y="246" font-size="13" fill="#222" textLength="67" lengthAdjust="spacingAndGlyphs">Popview - 1</text>
<path d="M736 236l10 10M746 236l-10 10" stroke="#222" stroke-width="1"/>
<rect x="192" y="260" width="526" height="385" fill="#000"/>
<rect x="192" y="645" width="526" height="3" fill="#b8eee0"/>
<rect x="717" y="258" width="3" height="390" fill="#b8eee0"/>
<rect x="193" y="313" width="522" height="3" fill="#4f9a10"/>
<circle cx="475.5" cy="479" r="29.7" fill="#b86cf8"/>
<rect x="720" y="258" width="35" height="391" fill="#55cdb0"/>
<use href="#bP" x="721" y="259"/><use href="#bP" x="721" y="294"/><use href="#bP" x="721" y="329"/><use href="#bP" x="721" y="364"/><use href="#bP" x="721" y="399"/><use href="#bP" x="721" y="434"/><use href="#bP" x="721" y="469"/>
<g transform="translate(721 259)"><rect class="n" x="8" y="12" width="13" height="13" stroke-width="1.5"/><rect x="18" y="7" width="8" height="8" fill="none" stroke="#111"/><path d="M11 18l5-3v6z"/></g>
<g transform="translate(721 294)"><path class="n" d="M9 14v13h15V14" /><path d="M16.5 7l6 7h-3v6h-6v-6h-3z"/></g>
<g transform="translate(721 329)"><path class="n" d="M9 19V7h15v12"/><path d="M16.5 27l6-7h-3v-6h-6v6h-3z"/></g>
<g transform="translate(721 364)"><path class="n" d="M15 8h11v17H15"/><path d="M7 16.5l7-6v4h6v5h-6v4z"/></g>
<g transform="translate(721 399)"><path class="n" d="M18 8H7v17h11"/><path d="M26 16.5l-7-6v4h-6v5h6v4z"/></g>
<g transform="translate(721 434)"><rect class="n" x="13" y="13" width="7" height="7"/><path d="M16.5 12l5-6h-10zM16.5 21l5 6h-10zM12 16.5l-6-5v10zM21 16.5l6-5v10z"/></g>
<g transform="translate(721 469)"><rect x="13" y="13" width="7" height="7" fill="none" stroke="#111"/><path d="M16.5 5l5 5h-10zM16.5 28l5-5h-10zM5 16.5l5-5v10zM28 16.5l-5-5v10z"/></g>
<rect x="189" y="649" width="567" height="2" fill="#1c3a30"/>
<rect x="191" y="651" width="562" height="25" fill="#9cdad9"/>
<path d="M191 652h562M192 651v25" stroke="#c8f0ec" stroke-width="2"/>
<path d="M191 675h562M752 651v25" stroke="#4f8f88" stroke-width="2"/>
<text x="450" y="668" font-family="Liberation Mono,monospace" font-size="15" fill="#103030" textLength="44.5">Close</text>
</svg>
</body></html>
